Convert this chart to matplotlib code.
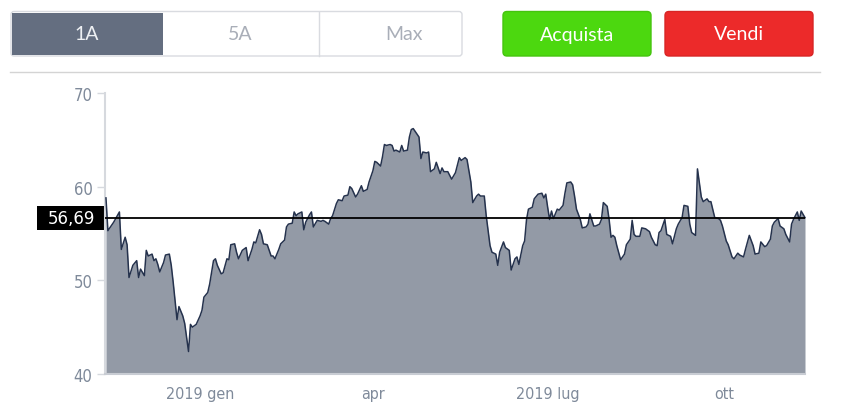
import matplotlib
matplotlib.use("Agg")
import matplotlib.pyplot as plt
import matplotlib.dates as mdates
from matplotlib.patches import FancyBboxPatch, Rectangle
import pandas as pd
import numpy as np

# ---------------- data ----------------
start_date = "2018-11-13"
day_offsets = [0, 1, 4, 7, 8, 10, 11, 12, 14, 16, 17, 18, 20, 21, 22, 24, 25, 26, 27, 28,
               30, 31, 33, 34, 35, 37, 38, 40, 41, 43, 44, 45, 47, 49, 50, 51, 53, 54, 56, 57,
               58, 60, 61, 63, 64, 65, 67, 68, 69, 71, 73, 74, 76, 77, 78, 80, 81, 82, 84, 86,
               87, 88, 90, 91, 93, 94, 95, 97, 98, 99, 100, 102, 103, 104, 106, 107, 108, 110, 112, 113,
               114, 116, 117, 118, 120, 121, 123, 124, 126, 127, 128, 130, 131, 133, 134, 136, 137, 139, 140, 141,
               143, 144, 145, 146, 148, 149, 150, 151, 153, 154, 155, 157, 158, 159, 160, 161, 163, 164, 165, 167,
               168, 169, 171, 172, 174, 175, 176, 178, 180, 182, 184, 185, 187, 188, 189, 190, 191, 193, 194, 195,
               197, 198, 200, 201, 202, 203, 204, 205, 207, 208, 210, 211, 213, 214, 215, 217, 218, 219, 220, 222,
               223, 225, 227, 228, 229, 230, 231, 232, 233, 235, 236, 238, 239, 240, 242, 243, 244, 245, 247, 248,
               250, 251, 252, 254, 255, 257, 258, 259, 261, 262, 263, 264, 265, 266, 268, 270, 271, 273, 274, 275,
               276, 278, 279, 281, 283, 284, 286, 287, 288, 289, 291, 292, 294, 295, 297, 298, 300, 301, 303, 304,
               305, 307, 308, 310, 311, 313, 314, 315, 317, 319, 320, 321, 323, 324, 326, 327, 329, 330, 332, 333,
               335, 337, 338, 340, 341, 343, 344, 346, 347, 348, 350, 351, 353, 354, 356, 357, 358, 360, 361, 362,
               364]
prices = [58.8, 55.3, 56.2, 57.3, 53.3, 54.6, 53.8, 50.3, 51.6, 52.1, 50.3, 51.2, 50.5, 53.2, 52.6, 52.8, 52.1, 52.3, 51.7, 50.9,
          51.9, 52.7, 52.8, 51.6, 49.8, 45.8, 47.2, 46.2, 45.4, 42.4, 45.3, 45.0, 45.3, 46.2, 46.8, 48.2, 48.7, 49.6, 52.1, 52.3,
          51.6, 50.7, 50.8, 52.3, 52.2, 53.8, 53.9, 53.0, 52.3, 53.2, 53.5, 52.1, 53.3, 54.1, 54.0, 55.4, 54.9, 53.9, 53.8, 52.6,
          52.6, 52.3, 53.3, 53.9, 54.3, 55.7, 56.0, 56.1, 57.3, 56.9, 57.1, 57.3, 55.4, 56.2, 57.0, 57.3, 55.7, 56.4, 56.3, 56.4,
          56.3, 56.0, 56.6, 56.9, 58.2, 58.6, 58.5, 59.0, 59.1, 60.0, 59.8, 58.9, 59.2, 60.1, 59.5, 59.7, 60.5, 61.7, 62.7, 62.6,
          62.2, 63.2, 64.5, 64.4, 64.5, 64.4, 63.8, 63.9, 63.7, 64.4, 63.8, 63.9, 65.3, 66.1, 66.2, 65.9, 65.3, 63.0, 63.7, 63.6,
          63.7, 61.6, 61.9, 62.6, 61.4, 62.0, 61.6, 61.6, 60.8, 61.5, 63.1, 62.8, 63.1, 62.9, 61.7, 60.5, 58.3, 59.0, 59.2, 59.0,
          59.0, 56.9, 53.7, 53.0, 52.9, 52.8, 51.6, 53.0, 54.1, 53.5, 53.2, 51.1, 52.3, 52.5, 51.7, 53.7, 54.2, 56.5, 57.6, 57.8,
          58.7, 59.2, 59.3, 58.8, 59.2, 57.8, 56.5, 57.4, 56.6, 57.6, 57.5, 58.0, 59.3, 60.4, 60.5, 60.2, 59.0, 57.6, 56.5, 55.6,
          55.7, 56.0, 57.1, 55.8, 55.8, 56.0, 56.5, 58.3, 57.9, 56.5, 54.6, 54.8, 54.6, 53.7, 52.2, 52.8, 53.8, 54.4, 56.4, 54.9,
          54.7, 54.7, 55.6, 55.5, 55.2, 54.6, 53.8, 53.7, 55.1, 55.3, 56.5, 54.9, 54.7, 53.9, 55.5, 56.0, 56.7, 58.0, 57.9, 56.0,
          55.1, 54.8, 61.9, 58.9, 58.4, 58.7, 58.4, 58.4, 56.7, 56.6, 56.4, 55.8, 54.2, 53.8, 52.5, 52.3, 52.9, 52.7, 52.5, 53.3,
          54.8, 53.7, 52.8, 52.9, 54.1, 53.6, 53.7, 54.4, 55.8, 56.2, 56.6, 55.8, 55.5, 54.9, 54.1, 56.0, 56.5, 57.3, 56.4, 57.4,
          56.69]
last_price = 56.69
tick_dates = ["2019-01-01", "2019-04-01", "2019-07-01", "2019-10-01"]
tick_labels = ["2019 gen", "apr", "2019 lug", "ott"]
y_ticks = [40, 50, 60, 70]
range_buttons = ["1A", "5A", "Max"]
action_buttons = ["Acquista", "Vendi"]

dates = pd.to_datetime(start_date) + pd.to_timedelta(day_offsets, unit="D")

# ---------------- figure ----------------
W, H = 858, 406
fig = plt.figure(figsize=(W / 100, H / 100), dpi=100)
fig.patch.set_facecolor("white")

# overlay axes in pixel coordinates for UI elements
ui = fig.add_axes([0, 0, 1, 1])
ui.set_xlim(0, W)
ui.set_ylim(H, 0)
ui.axis("off")

# main chart axes
x0, x1, ytop, ybot = 105, 805, 94, 375
ax = fig.add_axes([x0 / W, (H - ybot) / H, (x1 - x0) / W, (ybot - ytop) / H])
ax.set_facecolor("none")

ax.fill_between(dates, prices, 40, color="#939aa6", lw=0, zorder=1)
ax.plot(dates, prices, color="#25324d", lw=1.1, zorder=3, clip_on=False)
ax.set_xlim(dates[0] - pd.Timedelta(days=0.5), dates[-1])
ax.set_ylim(40, 70)

ax.axhline(last_price, color="black", lw=1.3, zorder=4)

ax.set_yticks(y_ticks)
ax.set_yticklabels([str(v) for v in y_ticks])
ax.set_xticks(pd.to_datetime(tick_dates))
ax.set_xticklabels(tick_labels)

tick_color = "#7f8a9a"
ax.tick_params(axis="y", length=6, width=1, color="#d6d9de", labelcolor=tick_color,
               labelsize=12, pad=3)
ax.tick_params(axis="x", length=0, labelcolor=tick_color, labelsize=11.5, pad=9)
for lab in ax.get_xticklabels() + ax.get_yticklabels():
    lab.set_fontstretch("condensed")

for s in ["top", "right"]:
    ax.spines[s].set_visible(False)
ax.spines["left"].set_color("#d6d9de")
ax.spines["left"].set_linewidth(1.5)
ax.spines["left"].set_zorder(0.5)
ax.spines["bottom"].set_color("#c8ccd3")
ax.spines["bottom"].set_linewidth(1.5)
ax.spines["bottom"].set_zorder(2)

# last price label box
ui.add_patch(Rectangle((37, 207), 67, 24, facecolor="black", edgecolor="none", zorder=5))
ui.text(71, 219.5, "56,69", color="white", ha="center", va="center", fontsize=12, zorder=6)

# ---------------- buttons ----------------
# segmented control
ui.add_patch(FancyBboxPatch((11, 12.5), 451, 44.5, boxstyle="round,pad=0,rounding_size=3",
                            facecolor="white", edgecolor="#d9dbe0", lw=1))
ui.add_patch(Rectangle((12, 13.5), 151, 42.5, facecolor="#646e80", edgecolor="none"))
ui.plot([318.5, 318.5], [13, 56.5], color="#d9dbe0", lw=1)
seg_centers = [87, 240, 404]
seg_colors = ["#eef0f3", "#a9aeb8", "#a9aeb8"]
for lbl, cx, c in zip(range_buttons, seg_centers, seg_colors):
    ui.text(cx, 35, lbl, ha="center", va="center", color=c, fontsize=14,
            family="Lato")

# action buttons
ui.add_patch(FancyBboxPatch((503, 12.5), 148, 44.5, boxstyle="round,pad=0,rounding_size=4",
                            facecolor="#4cd80f", edgecolor="#45c40e", lw=1))
ui.add_patch(FancyBboxPatch((665, 12.5), 148, 44.5, boxstyle="round,pad=0,rounding_size=4",
                            facecolor="#ec2a2a", edgecolor="#d82525", lw=1))
ui.text(577, 35, action_buttons[0], ha="center", va="center", color="white", fontsize=14,
        family="Lato")
ui.text(739, 35, action_buttons[1], ha="center", va="center", color="white", fontsize=14,
        family="Lato")

# separator line
ui.plot([10, 820], [72.5, 72.5], color="#d4d4d4", lw=1)

fig.savefig("out.png", dpi=100, facecolor="white")
